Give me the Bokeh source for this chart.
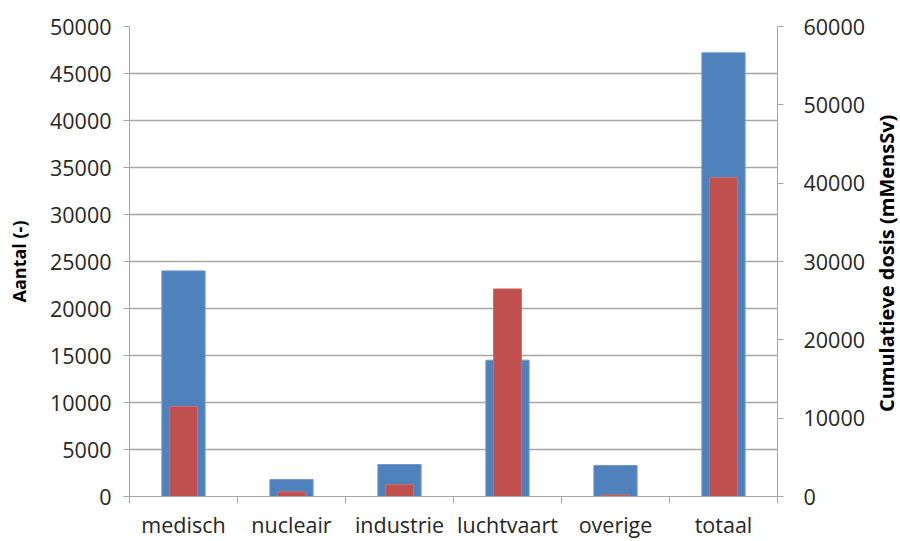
import math
from bokeh.plotting import figure
from bokeh.models import Range1d, LinearAxis, FixedTicker
from bokeh.layouts import row
from bokeh.core.properties import value
from bokeh.embed import file_html
from bokeh.resources import INLINE

categories = ["medisch", "nucleair", "industrie", "luchtvaart", "overige", "totaal"]
aantal = [24000, 1800, 3400, 14500, 3300, 47200]
dosis = [11500, 600, 1500, 26500, 200, 40700]
left_ticks = [0, 5000, 10000, 15000, 20000, 25000, 30000, 35000, 40000, 45000, 50000]
right_ticks = [0, 10000, 20000, 30000, 40000, 50000, 60000]
left_title = "Aantal (-)"
right_title = "Cumulatieve dosis (mMensSv)"

xs = [i + 0.5 for i in range(len(categories))]
bounds = list(range(len(categories) + 1))

FONT = "Open Sans"
TXT = "#262626"
GRID = "#A6A6A6"
TICK_SIZE = "21.5px"

p = figure(width=870, height=541, output_backend="svg", toolbar_location=None,
           x_range=Range1d(0, len(categories)), y_range=Range1d(0, 50000),
           min_border_left=129, min_border_right=93, min_border_top=26, min_border_bottom=44)
p.outline_line_color = None
p.background_fill_color = "white"
p.border_fill_color = "white"

p.extra_y_ranges = {"dose": Range1d(0, 60000)}

p.vbar(x=xs, top=aantal, width=0.40, fill_color="#4F81BD", line_color="#6F97CC", line_width=1)
p.vbar(x=xs, top=dosis, width=0.26, fill_color="#C0504D", line_color="#CC6F6C", line_width=1,
       y_range_name="dose")

# x axis
xa = p.xaxis[0]
xa.ticker = FixedTicker(ticks=xs, minor_ticks=bounds)
xa.major_label_overrides = {x: c for x, c in zip(xs, categories)}
xa.major_tick_line_color = None
xa.minor_tick_line_color = GRID
xa.minor_tick_out = 7
xa.minor_tick_in = 0
xa.axis_line_color = GRID
xa.major_label_text_font = FONT
xa.major_label_text_font_size = TICK_SIZE
xa.major_label_text_color = TXT
xa.major_label_standoff = 6
p.xgrid.grid_line_color = None

# left axis
ya = p.yaxis[0]
ya.ticker = FixedTicker(ticks=left_ticks)
ya.axis_line_color = GRID
ya.major_tick_line_color = GRID
ya.major_tick_out = 6
ya.major_tick_in = 0
ya.minor_tick_line_color = None
ya.major_label_text_font = FONT
ya.major_label_text_font_size = TICK_SIZE
ya.major_label_text_color = TXT
ya.major_label_standoff = 12
ya.axis_label = left_title
ya.axis_label_text_font = FONT
ya.axis_label_text_font_size = "18px"
ya.axis_label_text_font_style = "bold"
ya.axis_label_text_color = "#000000"
ya.axis_label_standoff = 16
p.ygrid.ticker = FixedTicker(ticks=left_ticks)
p.ygrid.grid_line_color = GRID
p.ygrid.grid_line_width = 1.5

# right axis
ra = LinearAxis(y_range_name="dose", ticker=FixedTicker(ticks=right_ticks))
ra.axis_line_color = GRID
ra.major_tick_line_color = GRID
ra.major_tick_out = 6
ra.major_tick_in = 0
ra.minor_tick_line_color = None
ra.major_label_text_font = FONT
ra.major_label_text_font_size = TICK_SIZE
ra.major_label_text_color = TXT
ra.major_label_standoff = 20
p.add_layout(ra, "right")

# narrow strip holding the right axis title, reading bottom-to-top
side = figure(width=30, height=541, output_backend="svg", toolbar_location=None,
              x_range=Range1d(0, 1), y_range=Range1d(0, 1),
              x_axis_type=None, y_axis_type=None,
              min_border=0, min_border_left=0, min_border_right=0,
              min_border_top=0, min_border_bottom=0)
side.outline_line_color = None
side.grid.visible = False
side.text(x=[0.52], y=[0.496], text=[right_title], angle=math.pi / 2,
          text_align="center", text_baseline="middle",
          text_font=value(FONT), text_font_size=value("20px"),
          text_font_style="bold", text_color="#000000")

layout = row(p, side, spacing=0)
open("out.html", "w").write(file_html(layout, INLINE))
